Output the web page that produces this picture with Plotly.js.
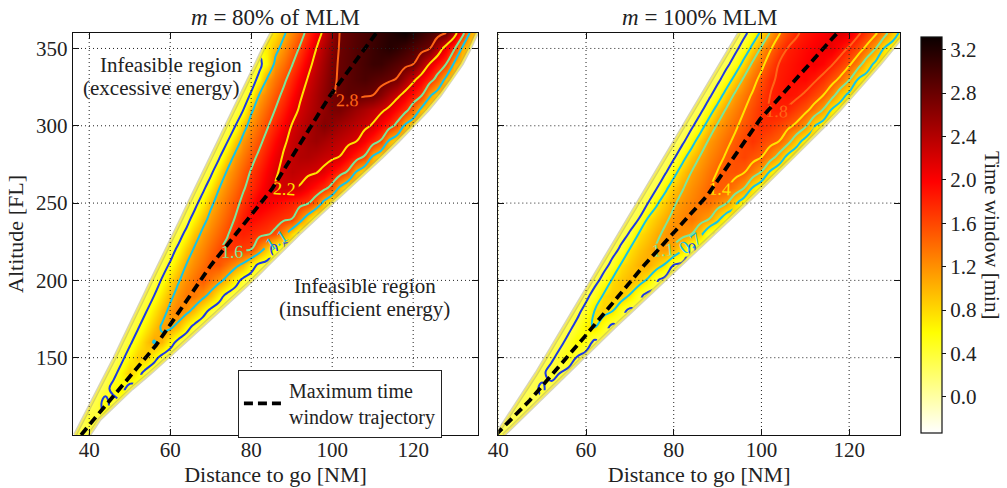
<!DOCTYPE html>
<html><head><meta charset="utf-8">
<script src="https://cdn.plot.ly/plotly-3.0.1.min.js"></script>
<style>html,body{margin:0;padding:0;background:#fff}#chart{width:1007px;height:488px}</style>
</head><body><div id="chart"></div>
<script>
// ---------------- data ----------------
const altitude = [100,110,120,130,140,150,160,170,180,190,200,210,220,230,240,250,260,270,280,290,300,310,320,330,340,350,360];
const distance80 = [36,38,40,42,44,46,48,50,52,54,56,58,60,62,64,66,68,70,72,74,76,78,80,82,84,86,88,90,92,94,96,98,100,102,104,106,108,110,112,114,116,118,120,122,124,126,128,130,132,134,136];
const distance100 = [40,42,44,46,48,50,52,54,56,58,60,62,64,66,68,70,72,74,76,78,80,82,84,86,88,90,92,94,96,98,100,102,104,106,108,110,112,114,116,118,120,122,124,126,128,130,132];

// time window [min], one row per altitude, starting at rowStart distance (2 NM steps)
const rowStart80 = [36,38,40,42,44,46,48,50,52,54,56,58,60,62,64,66,66,68,70,72,74,76,78,80,82,84,86];
const window80 = [
 [0.27,0.4,0.3],
 [0.27,0.45,0.4],
 [0.27,0.38,0.62,0.34],
 [0.27,0.38,0.62,0.63,0.34],
 [0.27,0.4,0.64,0.87,0.62,0.38,0.25],
 [0.27,0.42,0.66,0.88,0.87,0.62,0.38,0.27],
 [0.3,0.44,0.67,0.90,1.09,0.99,0.66,0.39,0.27],
 [0.3,0.46,0.69,0.91,1.11,1.14,0.96,0.65,0.4,0.27],
 [0.32,0.48,0.72,0.95,1.15,1.31,1.16,0.95,0.65,0.4,0.3],
 [0.34,0.5,0.75,1.0,1.18,1.33,1.33,1.17,0.95,0.65,0.4,0.32],
 [0.34,0.53,0.79,1.04,1.21,1.36,1.51,1.34,1.18,0.96,0.65,0.41,0.33],
 [0.36,0.54,0.81,1.08,1.23,1.38,1.53,1.53,1.36,1.19,0.99,0.66,0.42,0.34],
 [0.36,0.57,0.86,1.11,1.26,1.42,1.57,1.73,1.69,1.66,1.63,1.26,0.88,0.5,0.38],
 [0.36,0.59,0.9,1.14,1.29,1.44,1.59,1.79,1.82,1.77,1.72,1.67,1.54,1.16,0.8,0.45],
 [0.36,0.63,0.94,1.16,1.32,1.48,1.64,1.85,1.97,1.91,1.84,1.78,1.71,1.65,1.26,0.86,0.5],
 [0.38,0.67,1.0,1.2,1.37,1.53,1.71,1.9,2.1,2.04,1.97,1.89,1.82,1.75,1.67,1.41,0.94,0.6],
 [0.3,0.4,0.7,1.05,1.24,1.41,1.59,1.75,1.92,2.08,2.22,2.25,2.22,2.18,2.03,1.89,1.75,1.51,0.99,0.68],
 [0.3,0.42,0.75,1.1,1.28,1.47,1.66,1.83,2.0,2.17,2.26,2.34,2.3,2.26,2.22,2.12,1.95,1.78,1.57,1.03,0.74],
 [0.3,0.44,0.81,1.14,1.33,1.52,1.70,1.89,2.07,2.23,2.32,2.41,2.42,2.37,2.31,2.26,2.19,2.0,1.81,1.6,1.03,0.76],
 [0.32,0.46,0.85,1.17,1.36,1.55,1.75,1.95,2.15,2.28,2.38,2.48,2.53,2.47,2.4,2.34,2.27,2.2,2.01,1.81,1.6,1.02,0.78],
 [0.33,0.48,0.93,1.21,1.4,1.6,1.8,2.01,2.21,2.32,2.43,2.55,2.66,2.58,2.5,2.43,2.35,2.27,2.17,1.98,1.79,1.53,1.0,0.78],
 [0.34,0.5,1.02,1.25,1.45,1.65,1.86,2.07,2.24,2.36,2.47,2.59,2.7,2.71,2.62,2.53,2.44,2.35,2.26,2.13,1.94,1.75,1.4,0.96,0.75],
 [0.36,0.53,1.08,1.29,1.5,1.71,1.93,2.15,2.31,2.45,2.6,2.74,2.81,2.87,2.84,2.81,2.78,2.64,2.46,2.29,2.1,1.89,1.69,1.14,0.89],
 [0.38,0.57,1.12,1.34,1.55,1.78,2.01,2.22,2.39,2.55,2.72,2.81,2.87,2.93,2.97,2.92,2.88,2.83,2.75,2.51,2.28,2.05,1.82,1.48,0.99,0.82],
 [0.43,0.65,1.17,1.38,1.6,1.84,2.09,2.31,2.5,2.69,2.81,2.87,2.93,3.0,3.06,3.06,2.99,2.92,2.85,2.78,2.51,2.2,1.93,1.67,1.05,0.88],
 [0.69,0.96,1.2,1.43,1.66,1.92,2.19,2.42,2.64,2.8,2.86,2.93,2.99,3.06,3.12,3.18,3.13,3.05,2.96,2.87,2.79,2.44,2.07,1.73,1.05,0.9],
 [0.74,1.01,1.25,1.48,1.73,2.01,2.28,2.56,2.79,2.85,2.92,2.98,3.04,3.11,3.17,3.24,3.3,3.2,3.1,3.0,2.9,2.8,2.41,1.87,1.05,0.88]
];
const rowStart100 = [40,42,44,46,48,50,52,56,58,60,62,64,66,68,70,72,74,76,78,80,82,84,86,88,90,92,94];
const window100 = [
 [0.3,0.27],
 [0.3,0.33],
 [0.28,0.36,0.3],
 [0.27,0.33,0.42,0.28],
 [0.27,0.32,0.48,0.38,0.27],
 [0.27,0.32,0.47,0.57,0.35,0.27],
 [0.27,0.31,0.46,0.64,0.53,0.31],
 [0.31,0.46,0.68,0.76,0.52,0.3],
 [0.31,0.48,0.76,0.84,0.74,0.47,0.3],
 [0.31,0.49,0.78,0.87,0.9,0.71,0.45,0.29],
 [0.3,0.46,0.78,0.89,0.99,0.89,0.70,0.41,0.28],
 [0.3,0.44,0.77,0.89,1.01,1.06,0.89,0.71,0.38,0.3],
 [0.3,0.42,0.76,0.89,1.01,1.13,1.15,1.04,0.78,0.36,0.32],
 [0.3,0.4,0.75,0.89,1.04,1.15,1.24,1.2,1.11,0.86,0.44,0.34],
 [0.29,0.37,0.74,0.9,1.05,1.16,1.25,1.34,1.23,1.13,0.84,0.54],
 [0.28,0.36,0.69,0.89,1.07,1.18,1.27,1.36,1.37,1.25,1.12,0.8,0.54],
 [0.28,0.34,0.66,0.89,1.08,1.2,1.31,1.42,1.5,1.46,1.31,1.12,0.73,0.5],
 [0.28,0.33,0.64,0.89,1.1,1.22,1.34,1.46,1.53,1.54,1.47,1.3,1.08,0.69,0.5],
 [0.27,0.32,0.63,0.89,1.11,1.24,1.36,1.48,1.57,1.62,1.54,1.46,1.26,0.99,0.65,0.5],
 [0.27,0.31,0.6,0.89,1.13,1.26,1.39,1.5,1.61,1.71,1.62,1.54,1.45,1.22,0.88,0.62],
 [0.27,0.31,0.58,0.89,1.14,1.28,1.41,1.53,1.64,1.75,1.71,1.62,1.52,1.39,1.16,0.76,0.58],
 [0.27,0.3,0.57,0.88,1.14,1.29,1.44,1.58,1.72,1.82,1.84,1.78,1.65,1.52,1.33,1.08,0.70,0.55],
 [0.27,0.3,0.55,0.87,1.15,1.32,1.48,1.66,1.81,1.86,1.91,1.87,1.77,1.62,1.47,1.24,0.9,0.66],
 [0.27,0.3,0.54,0.85,1.15,1.34,1.54,1.76,1.85,1.9,1.95,1.96,1.86,1.73,1.57,1.39,1.13,0.73,0.6],
 [0.27,0.3,0.52,0.84,1.15,1.37,1.6,1.82,1.87,1.93,1.99,2.05,1.97,1.84,1.68,1.5,1.26,0.92,0.67],
 [0.27,0.3,0.52,0.83,1.14,1.42,1.63,1.82,1.88,1.95,2.01,2.08,2.09,1.93,1.77,1.59,1.38,1.11,0.72,0.6],
 [0.27,0.3,0.51,0.81,1.12,1.42,1.6,1.78,1.87,1.94,2.0,2.09,2.16,2.09,1.87,1.68,1.5,1.24,0.88,0.66]
];

// feasibility boundaries [NM] at each altitude
const edgeLeft80  = [36.5,38.5,40.5,42.5,44.5,46.3,48.1,50,51.8,53.6,55.4,57.3,59.1,61,62.8,64.6,66.5,68.3,70.1,72,73.8,75.7,77.5,79.4,81.2,83,85];
const edgeRight80 = [40,42.5,46.5,50.5,55,59.4,63.5,67.7,71.9,76,80.2,84,87.8,91.7,95.8,100,104.2,108.3,112.3,116.2,120,123.5,126.7,129.5,132,134,135.7];
const edgeLeft100  = [39.5,41.8,44.2,46.6,48.7,50.8,52.9,55,57.1,59.2,61.3,63.4,65.5,67.6,69.8,71.9,74,76.1,78.2,80.3,82.4,84.5,86.6,88.7,90.8,92.8,94.9];
const edgeRight100 = [41.2,44.8,48.3,51.9,55.5,59.1,62.7,66.5,70.3,74.1,77.9,81.7,85.4,89.1,92.8,96.5,100.1,103.7,107.3,110.8,114.3,117.7,120.9,124,127,129.9,132.8];

// maximum time window trajectories
const trajDist80 = [38,41,56.5,70,85.1,99.4,110.9];
const trajAlt80  = [100,109.6,158,209.6,259,319.2,360];
const trajDist100 = [39.4,47.2,59.6,73.2,87.6,99.7,116.3,117.3];
const trajAlt100  = [100,122.5,163.3,209.6,254.7,304.2,356.9,360];

// contour levels
const levels80  = [0.5,1.07,1.63,2.2,2.77];
const levels100 = [0.38,0.74,1.1,1.45,1.81];
const levelColors = ['#1d3ae3','#13c4e8','#79e79b','#ffe300','#ff6516'];

const distTicks = [40,60,80,100,120];
const altTicks = [150,200,250,300,350];
const cbTicks = [0,0.4,0.8,1.2,1.6,2.0,2.4,2.8,3.2];

// ---------------- build ----------------
const FONT = 'Liberation Serif, DejaVu Serif, serif';
const TXT = '#222';
const range80 = [36,136], range100 = [40,131.6], altRange = [100,360];
const zRange = [-0.33,3.32];
const hotR = [[0,'rgb(255,255,255)'],[0.254,'rgb(255,255,0)'],[0.635,'rgb(255,0,0)'],[1,'rgb(11,0,0)']];

function buildGrid(xs, starts, rows){
  return altitude.map((a,i)=>{
    const row = xs.map(()=>null);
    const i0 = xs.indexOf(starts[i]);
    rows[i].forEach((v,k)=>{ if(i0+k < row.length) row[i0+k] = v; });
    return row;
  });
}
const z80 = buildGrid(distance80, rowStart80, window80);
const z100 = buildGrid(distance100, rowStart100, window100);

function panel(xs, z, levels, eL, eR, tD, tA, xr, xa, ya, showScale, legend){
  const out = [];
  const hm = {type:'heatmap', x:xs, y:altitude, z:z, zsmooth:'best', connectgaps:true,
    colorscale:hotR, zmin:zRange[0], zmax:zRange[1], showscale:showScale, xaxis:xa, yaxis:ya, hoverinfo:'skip'};
  if(showScale){
    hm.colorbar = {x:1.025, xanchor:'left', y:0.9908, yanchor:'top', len:0.985, lenmode:'fraction',
      thickness:21, thicknessmode:'pixels', xpad:0, ypad:0, outlinewidth:1.2, outlinecolor:'#111',
      tickvals:cbTicks, tickformat:'.1f', ticks:'outside', ticklen:4, tickcolor:'#111',
      tickfont:{family:FONT, size:21, color:TXT}};
  }
  out.push(hm);
  levels.forEach((L,i)=>{
    out.push({type:'contour', x:xs, y:altitude, z:z, xaxis:xa, yaxis:ya, showscale:false, showlegend:false,
      hoverinfo:'skip', autocontour:false,
      contours:{coloring:'none', start:L, end:L, size:1, showlabels:true,
        labelformat:'.1f', labelfont:{family:FONT, size:18, color:levelColors[i]}},
      line:{color:levelColors[i], width:2, smoothing:1.3}});
  });
  const far = 60;
  out.push({type:'scatter', mode:'lines', x:eL.concat([eL[eL.length-1], xr[0]-far, xr[0]-far, eL[0]]),
    y:altitude.concat([altRange[1]+far, altRange[1]+far, altRange[0]-far, altRange[0]-far]),
    fill:'toself', fillcolor:'#ffffff', line:{width:0}, xaxis:xa, yaxis:ya, showlegend:false, hoverinfo:'skip'});
  out.push({type:'scatter', mode:'lines', x:eR.concat([eR[eR.length-1], xr[1]+far, xr[1]+far, eR[0]]),
    y:altitude.concat([altRange[1]+far, altRange[1]+far, altRange[0]-far, altRange[0]-far]),
    fill:'toself', fillcolor:'#ffffff', line:{width:0}, xaxis:xa, yaxis:ya, showlegend:false, hoverinfo:'skip'});
  [eL,eR].forEach(e=>{
    out.push({type:'scatter', mode:'lines', x:e, y:altitude, line:{color:'rgba(165,160,110,0.45)', width:4},
      xaxis:xa, yaxis:ya, showlegend:false, hoverinfo:'skip'});
    out.push({type:'scatter', mode:'lines', x:e, y:altitude, line:{color:'rgba(250,238,80,0.9)', width:1.5},
      xaxis:xa, yaxis:ya, showlegend:false, hoverinfo:'skip'});
  });
  out.push({type:'scatter', mode:'lines', x:tD, y:tA, xaxis:xa, yaxis:ya,
    name:'Maximum time<br>window trajectory', showlegend:legend,
    line:{color:'#000', width:3.8, dash:'9px,5px'}, hoverinfo:'skip'});
  return out;
}

const data = [].concat(
  panel(distance80, z80, levels80, edgeLeft80, edgeRight80, trajDist80, trajAlt80, range80, 'x', 'y', false, true),
  panel(distance100, z100, levels100, edgeLeft100, edgeRight100, trajDist100, trajAlt100, range100, 'x2', 'y2', true, false)
);

const shapes = [];
[['x','y'],['x2','y2']].forEach(([xa,ya])=>{
  distTicks.forEach(t=>shapes.push({type:'line', layer:'above', xref:xa, yref:ya+' domain', x0:t, x1:t, y0:0, y1:1,
    line:{color:'#222', width:1, dash:'1px,3px'}}));
  altTicks.forEach(t=>shapes.push({type:'line', layer:'above', xref:xa+' domain', yref:ya, x0:0, x1:1, y0:t, y1:t,
    line:{color:'#222', width:1, dash:'1px,3px'}}));
});

const axisBase = {ticks:'inside', ticklen:6, tickwidth:1, tickcolor:'#111', mirror:'allticks', showline:true,
  linecolor:'#111', linewidth:1.3, showgrid:false, zeroline:false, automargin:false,
  tickfont:{family:FONT, size:21, color:TXT}};

function txt(x, y, text, xref, yref, size){
  return {xref:xref, yref:yref, x:x, y:y, text:text, showarrow:false, xanchor:'center', yanchor:'middle',
    font:{family:FONT, size:size, color:TXT}};
}

const layout = {
  width:1007, height:488, margin:{l:73, r:107, t:33, b:53, autoexpand:false},
  paper_bgcolor:'#fff', plot_bgcolor:'#fff',
  font:{family:FONT, size:21, color:TXT},
  showlegend:true, hovermode:false,
  legend:{x:0.1992, y:0.1624, xanchor:'left', yanchor:'top', bgcolor:'#fff', bordercolor:'#222', borderwidth:1.2,
    font:{family:FONT, size:20, color:TXT}, itemwidth:40, entrywidth:200, entrywidthmode:'pixels'},
  xaxis:Object.assign({}, axisBase, {domain:[0,0.4897], range:range80, tickvals:distTicks, anchor:'y',
    ticklabelstandoff:-5,
    title:{text:'Distance to go [NM]', standoff:2, font:{family:FONT, size:22, color:TXT}}}),
  yaxis:Object.assign({}, axisBase, {domain:[0,1], range:altRange, tickvals:altTicks, anchor:'x',
    title:{text:'Altitude [FL]', standoff:6, font:{family:FONT, size:22, color:TXT}}}),
  xaxis2:Object.assign({}, axisBase, {domain:[0.5143,1], range:range100, tickvals:distTicks, anchor:'y2',
    ticklabelstandoff:-5,
    title:{text:'Distance to go [NM]', standoff:2, font:{family:FONT, size:22, color:TXT}}}),
  yaxis2:Object.assign({}, axisBase, {domain:[0,1], range:altRange, tickvals:altTicks, anchor:'x2', showticklabels:false}),
  shapes:shapes,
  annotations:[
    txt(0.2447, 1.0398, '<i>m</i> = 80% of MLM', 'paper', 'paper', 23),
    txt(0.757, 1.0398, '<i>m</i> = 100% MLM', 'paper', 'paper', 23),
    txt(60.2, 339.5, 'Infeasible region', 'x', 'y', 21),
    txt(57.7, 324.4, '(excessive energy)', 'x', 'y', 21),
    txt(108.2, 196.2, 'Infeasible region', 'x', 'y', 21),
    txt(107.9, 181.5, '(insufficient energy)', 'x', 'y', 21),
    Object.assign(txt(1.1112, 0.4975, 'Time window [min]', 'paper', 'paper', 21), {textangle:90})
  ]
};

Plotly.newPlot('chart', data, layout, {staticPlot:true, displayModeBar:false});
</script>
</body></html>
